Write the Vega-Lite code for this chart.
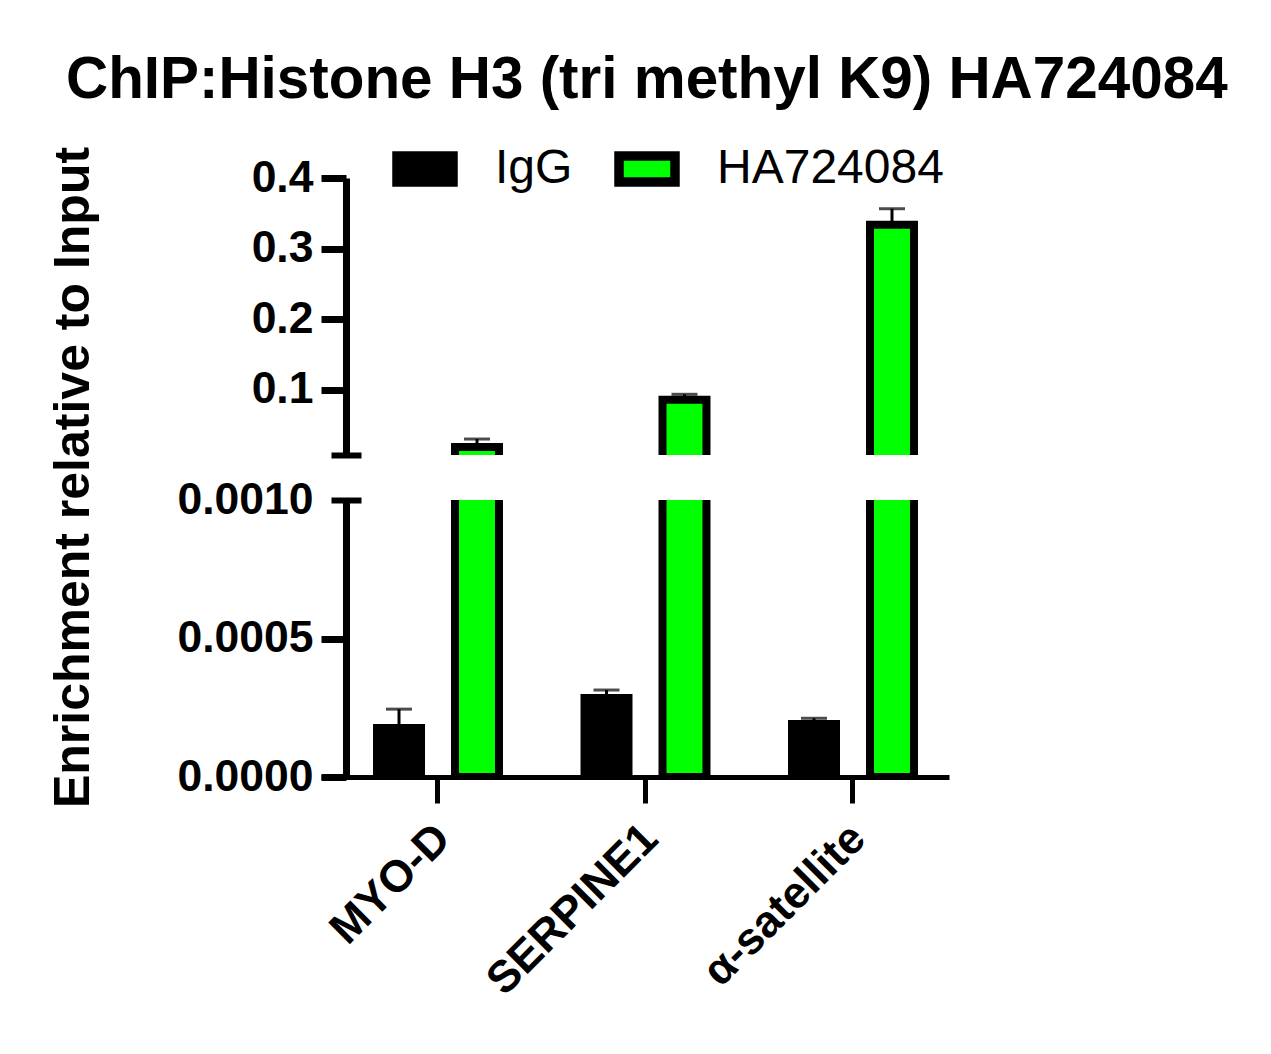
{
  "$schema": "https://vega.github.io/schema/vega-lite/v6.json",
  "background": "white",
  "padding": {"left": 48, "top": 50, "right": 10, "bottom": 10},
  "title": {"text": "ChIP:Histone H3 (tri methyl K9) HA724084", "font": "Liberation Sans", "fontSize": 58.4, "fontWeight": "bold", "color": "black", "anchor": "start", "dx": 18, "offset": 26},
  "data": {"values": [
    {"gene": "MYO-D", "group": "IgG", "mean": 0.000177, "hi": 0.000245},
    {"gene": "MYO-D", "group": "HA724084", "mean": 0.0193, "hi": 0.0306},
    {"gene": "SERPINE1", "group": "IgG", "mean": 0.000285, "hi": 0.000314},
    {"gene": "SERPINE1", "group": "HA724084", "mean": 0.0863, "hi": 0.0939},
    {"gene": "α-satellite", "group": "IgG", "mean": 0.000191, "hi": 0.000212},
    {"gene": "α-satellite", "group": "HA724084", "mean": 0.3339, "hi": 0.3565}
  ]},
  "bounds": "flush",
  "spacing": 45,
  "vconcat": [
    {
      "width": 628,
      "height": 277,
      "resolve": {"axis": {"y": "independent"}},
      "layer": [
        {
          "mark": {"type": "rule", "color": "black", "strokeWidth": 3, "clip": true},
          "encoding": {
            "x": {"field": "gene", "type": "nominal", "sort": null, "axis": null, "scale": {"paddingInner": 0.0747, "paddingOuter": 0.0506, "align": 1}},
            "xOffset": {"field": "group", "type": "nominal", "sort": ["IgG", "HA724084"], "scale": {"domain": ["IgG", "HA724084"], "paddingInner": 0.436, "paddingOuter": 0.449}},
            "y": {"field": "mean", "type": "quantitative", "scale": {"domain": [0.008, 0.4], "zero": false, "nice": false}, "axis": null},
            "y2": {"field": "hi"}
          }
        },
        {
          "mark": {"type": "tick", "color": "black", "size": 26, "thickness": 3, "clip": true},
          "encoding": {
            "x": {"field": "gene", "type": "nominal", "sort": null, "axis": null},
            "xOffset": {"field": "group", "type": "nominal", "sort": ["IgG", "HA724084"]},
            "y": {"field": "hi", "type": "quantitative", "scale": {"domain": [0.008, 0.4], "zero": false, "nice": false},
              "axis": {"orient": "left", "offset": -40, "values": [0.008], "labels": false, "domain": false, "ticks": true, "tickSize": 30, "tickWidth": 6, "tickColor": "black", "grid": false, "title": null}}
          }
        },
        {
          "mark": {"type": "bar", "stroke": "black", "strokeWidth": 8, "clip": true},
          "encoding": {
            "x": {"field": "gene", "type": "nominal", "sort": null, "axis": null},
            "xOffset": {"field": "group", "type": "nominal", "sort": ["IgG", "HA724084"]},
            "y": {"field": "mean", "type": "quantitative", "scale": {"domain": [0.008, 0.4], "zero": false, "nice": false},
              "axis": {"orient": "left", "offset": -25, "values": [0.1, 0.2, 0.3, 0.4], "format": ".1f", "labelFont": "Liberation Sans", "labelFontSize": 44.5, "labelFontWeight": "bold", "labelColor": "black", "labelPadding": 8, "tickSize": 25, "tickWidth": 7, "tickColor": "black", "domainWidth": 7, "domainColor": "black", "grid": false,
                "title": "Enrichment relative to Input", "titleFont": "Liberation Sans", "titleFontSize": 50, "titleFontWeight": "bold", "titleColor": "black", "titleX": -248, "titleY": 299}},
            "color": {"field": "group", "type": "nominal", "scale": {"domain": ["IgG", "HA724084"], "range": ["black", "#00ff00"]},
              "legend": {"orient": "none", "legendX": 71, "legendY": -42, "direction": "horizontal", "title": null,
                "symbolType": "M-1,-0.464H1V0.464H-1Z", "symbolSize": 3136, "symbolStrokeColor": "black", "symbolStrokeWidth": 9.5,
                "labelFont": "Liberation Sans", "labelFontSize": 48, "labelColor": "black", "labelOffset": 37, "columnPadding": 27, "labelLimit": 0,
                "encode": {"symbols": {"update": {"stroke": {"value": "black"}, "strokeWidth": {"value": 9.5}}}}}}
          }
        }
      ]
    },
    {
      "width": 628,
      "height": 277,
      "resolve": {"axis": {"y": "independent"}},
      "layer": [
        {
          "mark": {"type": "rule", "color": "black", "strokeWidth": 3, "clip": true},
          "encoding": {
            "x": {"field": "gene", "type": "nominal", "sort": null, "scale": {"paddingInner": 0.0747, "paddingOuter": 0.0506, "align": 1},
              "axis": {"title": null, "labelAngle": -45, "labelFont": "Liberation Sans", "labelFontSize": 44.5, "labelFontWeight": "bold", "labelColor": "black", "labelLimit": 0, "tickSize": 26, "tickWidth": 5, "tickColor": "black", "domainWidth": 5, "domainColor": "black", "labelPadding": 13, "labelOffset": -10}},
            "xOffset": {"field": "group", "type": "nominal", "sort": ["IgG", "HA724084"], "scale": {"domain": ["IgG", "HA724084"], "paddingInner": 0.436, "paddingOuter": 0.449}},
            "y": {"field": "mean", "type": "quantitative", "scale": {"domain": [0, 0.001], "zero": false, "nice": false}, "axis": null},
            "y2": {"field": "hi"}
          }
        },
        {
          "mark": {"type": "tick", "color": "black", "size": 26, "thickness": 3, "clip": true},
          "encoding": {
            "x": {"field": "gene", "type": "nominal", "sort": null},
            "xOffset": {"field": "group", "type": "nominal", "sort": ["IgG", "HA724084"]},
            "y": {"field": "hi", "type": "quantitative", "scale": {"domain": [0, 0.001], "zero": false, "nice": false},
              "axis": {"orient": "left", "offset": -40, "values": [0.001], "format": ".4f", "labels": true, "labelFont": "Liberation Sans", "labelFontSize": 44.5, "labelFontWeight": "bold", "labelColor": "black", "labelPadding": 18, "domain": false, "ticks": true, "tickSize": 30, "tickWidth": 6, "tickColor": "black", "grid": false, "title": null}}
          }
        },
        {
          "mark": {"type": "bar", "stroke": "black", "strokeWidth": 8, "clip": true},
          "encoding": {
            "x": {"field": "gene", "type": "nominal", "sort": null},
            "xOffset": {"field": "group", "type": "nominal", "sort": ["IgG", "HA724084"]},
            "y": {"field": "mean", "type": "quantitative", "scale": {"domain": [0, 0.001], "zero": false, "nice": false},
              "axis": {"orient": "left", "offset": -25, "values": [0, 0.0005], "format": ".4f", "labelFont": "Liberation Sans", "labelFontSize": 44.5, "labelFontWeight": "bold", "labelColor": "black", "labelPadding": 8, "tickSize": 25, "tickWidth": 7, "tickColor": "black", "domainWidth": 7, "domainColor": "black", "grid": false, "title": null}},
            "color": {"field": "group", "type": "nominal", "scale": {"domain": ["IgG", "HA724084"], "range": ["black", "#00ff00"]}, "legend": null}
          }
        }
      ]
    }
  ],
  "config": {
    "view": {"stroke": null},
    "axis": {"grid": false}
  }
}
